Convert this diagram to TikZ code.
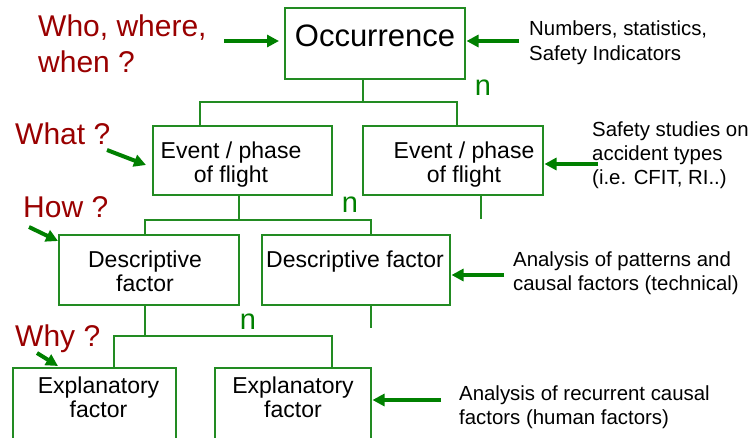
\documentclass[tikz,border=0pt]{standalone}
\usepackage{fontspec}
\setmainfont{Liberation Sans}
\usetikzlibrary{arrows.meta,calc}
\definecolor{qred}{RGB}{153,0,0}
\definecolor{boxgreen}{RGB}{34,139,34}
\definecolor{arrgreen}{RGB}{0,128,0}

\begin{document}
\begin{tikzpicture}[x=1pt,y=-1pt,
  box/.style={draw=boxgreen, line width=1.5pt, rectangle, anchor=north west,
    inner sep=0pt, outer sep=0pt},
  boxtext/.style={anchor=base, align=center, inner sep=0pt,
    font=\fontsize{23}{24}\selectfont},
  question/.style={anchor=base west, align=left, inner sep=0pt, text=qred,
    font=\fontsize{30}{36}\selectfont},
  note/.style={anchor=base west, align=left, inner sep=0pt,
    font=\fontsize{20.4}{24}\selectfont},
  mult/.style={anchor=base, inner sep=0pt, text=arrgreen,
    font=\fontsize{29}{30}\selectfont},
  link/.style={draw=boxgreen, line width=1.5pt},
  pointer/.style={draw=arrgreen, line width=4pt,
    -{Triangle[length=12pt,width=12pt]}},
]
\clip (0,0) rectangle (752,437);

% boxes
\node[box, minimum width=180pt, minimum height=71pt] (occ) at (285,8) {};
\node[box, minimum width=179pt, minimum height=69pt] (ev1) at (153,126) {};
\node[box, minimum width=180pt, minimum height=69pt] (ev2) at (363,126) {};
\node[box, minimum width=180pt, minimum height=70pt] (de1) at (59,235) {};
\node[box, minimum width=188pt, minimum height=70pt] (de2) at (262,235) {};
\node[box, minimum width=163pt, minimum height=100pt] (ex1) at (13,368) {};
\node[box, minimum width=156pt, minimum height=100pt] (ex2) at (215,368) {};

% box captions (multi-line nodes sit on the baseline of their last line)
\node[boxtext, font=\fontsize{31}{36}\selectfont] (occT) at (375,46.5) {Occurrence};
\node[boxtext] (ev1T) at (231,182) {Event / phase\\of flight};
\node[boxtext] (ev2T) at (464,182) {Event / phase\\of flight};
\node[boxtext] (de1T) at (145,291) {Descriptive\\factor};
\node[boxtext] (de2T) at (355,267) {Descriptive factor};
\node[boxtext] (ex1T) at (98.5,417) {Explanatory\\factor};
\node[boxtext] (ex2T) at (293,417) {Explanatory\\factor};

% tree links
\coordinate (t1) at (363,102);
\coordinate (t1l) at (200,102);
\coordinate (t1r) at (457,102);
\path[link] (occ.south -| t1) -- (t1);
\path[link] (ev1.north -| t1l) -- (t1l) -- (t1r) -- (ev2.north -| t1r);

\coordinate (t2) at (239,220);
\coordinate (t2l) at (145,220);
\coordinate (t2r) at (371,220);
\coordinate (e2end) at (481,219);
\path[link] (ev1.south -| t2) -- (t2);
\path[link] (de1.north -| t2l) -- (t2l) -- (t2r) -- (de2.north -| t2r);
\path[link] (ev2.south -| e2end) -- (e2end);

\coordinate (t3) at (145,336);
\coordinate (t3l) at (114,336);
\coordinate (t3r) at (332,336);
\coordinate (d2end) at (371,328);
\path[link] (de1.south -| t3) -- (t3);
\path[link] (ex1.north -| t3l) -- (t3l) -- (t3r) -- (ex2.north -| t3r);
\path[link] (de2.south -| d2end) -- (d2end);

% multiplicity marks
\node[mult] (m1) at (483,95) {n};
\node[mult] (m2) at (350,212) {n};
\node[mult] (m3) at (248,329) {n};

% questions
\node[question] (qwho) at (38,72) {Who, where,\\when ?};
\node[question] (qwhat) at (15,144) {What ?};
\node[question] (qhow) at (23,217) {How ?};
\node[question] (qwhy) at (15,346) {Why ?};

% notes
\node[note, font=\fontsize{20.4}{25}\selectfont] (nstat) at (529,60) {Numbers, statistics,\\Safety Indicators};
\node[note] (nstud) at (592,184) {Safety studies on\\accident types\\(i.e. CFIT, RI..)};
\node[note] (npat) at (513,290) {Analysis of patterns and\\causal factors (technical)};
\node[note] (nrec) at (459,424) {Analysis of recurrent causal\\factors (human factors)};

% pointers
\coordinate (p1) at (224,41);
\coordinate (p2) at (519,41);
\coordinate (p3) at (107,150);
\coordinate (p4) at (29,227);
\coordinate (p5) at (37,353);
\coordinate (p6) at (598,164);
\coordinate (p7) at (504,275);
\coordinate (p8) at (441,400);
\draw[pointer, shorten >=6pt] (p1) -- (occ.west |- p1);
\draw[pointer, shorten >=1.5pt] (p2) -- (occ.east |- p2);
\draw[pointer] (p3) -- ($(ev1.north west)+(-7,39)$);
\draw[pointer] (p4) -- ($(de1.north west)+(-1,6)$);
\draw[pointer] (p5) -- ($(ex1.north west)+(45,-2)$);
\draw[pointer, shorten >=1.5pt] (p6) -- (ev2.east |- p6);
\draw[pointer, shorten >=1.5pt] (p7) -- (de2.east |- p7);
\draw[pointer, shorten >=1.5pt] (p8) -- (ex2.east |- p8);
\end{tikzpicture}
\end{document}
